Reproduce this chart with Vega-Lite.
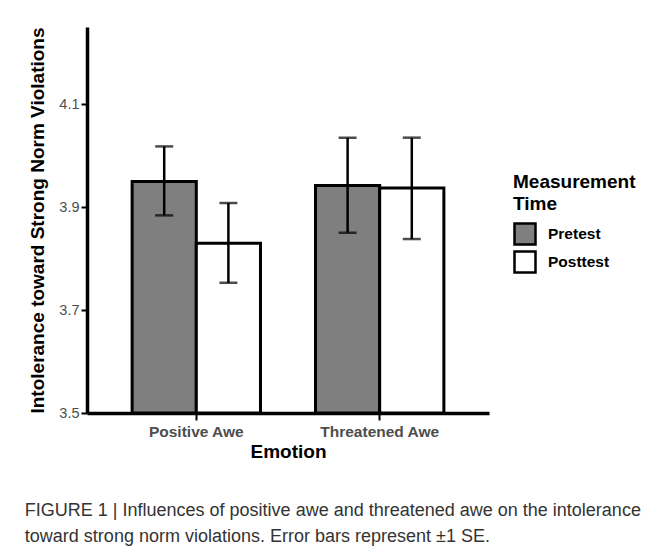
{
  "$schema": "https://vega.github.io/schema/vega-lite/v6.json",
  "width": 402,
  "height": 386,
  "autosize": {"type": "none"},
  "padding": {"left": 87, "top": 27, "right": 168, "bottom": 143},
  "background": "white",
  "config": {
    "font": "Liberation Sans",
    "view": {"stroke": null}
  },
  "title": {
    "text": ["FIGURE 1 | Influences of positive awe and threatened awe on the intolerance", "toward strong norm violations. Error bars represent ±1 SE."],
    "orient": "bottom",
    "anchor": "start",
    "frame": "bounds",
    "fontSize": 18,
    "fontWeight": "normal",
    "color": "#333333",
    "lineHeight": 26,
    "offset": 40,
    "dx": -4
  },
  "data": {
    "values": [
      {"Emotion": "Positive Awe", "Time": "Pretest", "mean": 3.95, "lo": 3.884, "hi": 4.018},
      {"Emotion": "Positive Awe", "Time": "Posttest", "mean": 3.83, "lo": 3.753, "hi": 3.908},
      {"Emotion": "Threatened Awe", "Time": "Pretest", "mean": 3.942, "lo": 3.85, "hi": 4.035},
      {"Emotion": "Threatened Awe", "Time": "Posttest", "mean": 3.937, "lo": 3.838, "hi": 4.035}
    ]
  },
  "encoding": {
    "x": {
      "field": "Emotion",
      "type": "nominal",
      "sort": ["Positive Awe", "Threatened Awe"],
      "scale": {"paddingInner": 0.3, "paddingOuter": 0.246},
      "title": "Emotion",
      "axis": {
        "labelAngle": 0,
        "labelFontSize": 15.5,
        "labelFontWeight": "bold",
        "labelColor": "#4d4d4d",
        "labelPadding": 4,
        "tickSize": 7,
        "tickWidth": 2,
        "tickColor": "black",
        "domainWidth": 3.5,
        "domainColor": "black",
        "titleFontSize": 19,
        "titleFontWeight": "bold",
        "titleColor": "black",
        "titlePadding": 3
      }
    },
    "xOffset": {
      "field": "Time",
      "type": "nominal",
      "sort": ["Pretest", "Posttest"],
      "scale": {"paddingInner": 0, "paddingOuter": 0}
    }
  },
  "layer": [
    {
      "mark": {"type": "bar", "stroke": "black", "strokeWidth": 3},
      "encoding": {
        "y": {
          "field": "mean",
          "type": "quantitative",
          "scale": {"domain": [3.5, 4.25], "nice": false, "zero": false},
          "title": "Intolerance toward Strong Norm Violations",
          "axis": {
            "values": [3.5, 3.7, 3.9, 4.1],
            "format": ".1f",
            "grid": false,
            "labelFontSize": 14.5,
            "labelColor": "#4d4d4d",
            "labelPadding": 2,
            "tickSize": 6,
            "tickWidth": 2,
            "tickColor": "black",
            "domainWidth": 3.5,
            "domainColor": "black",
            "titleFontSize": 19,
            "titleFontWeight": "bold",
            "titleColor": "black",
            "titlePadding": 11
          }
        },
        "y2": {"datum": 3.5},
        "fill": {
          "field": "Time",
          "type": "nominal",
          "scale": {"domain": ["Pretest", "Posttest"], "range": ["#7f7f7f", "#ffffff"]},
          "legend": {
            "title": ["Measurement", "Time"],
            "orient": "none",
            "legendX": 426,
            "legendY": 146,
            "titleFontSize": 19,
            "titleFontWeight": "bold",
            "titleColor": "black",
            "titleLineHeight": 22,
            "titlePadding": 8,
            "labelFontSize": 15.5,
            "labelFontWeight": "bold",
            "labelColor": "black",
            "labelOffset": 11,
            "symbolType": "square",
            "symbolSize": 441,
            "symbolStrokeColor": "black",
            "symbolStrokeWidth": 2.5,
            "rowPadding": -13.5
          }
        }
      }
    },
    {
      "mark": {"type": "rule", "color": "black", "strokeWidth": 2.5},
      "encoding": {
        "y": {"field": "lo", "type": "quantitative"},
        "y2": {"field": "hi"}
      }
    },
    {
      "mark": {"type": "tick", "color": "black", "thickness": 2.5, "size": 18},
      "encoding": {
        "y": {"field": "lo", "type": "quantitative"}
      }
    },
    {
      "mark": {"type": "tick", "color": "black", "thickness": 2.5, "size": 18},
      "encoding": {
        "y": {"field": "hi", "type": "quantitative"}
      }
    }
  ]
}
